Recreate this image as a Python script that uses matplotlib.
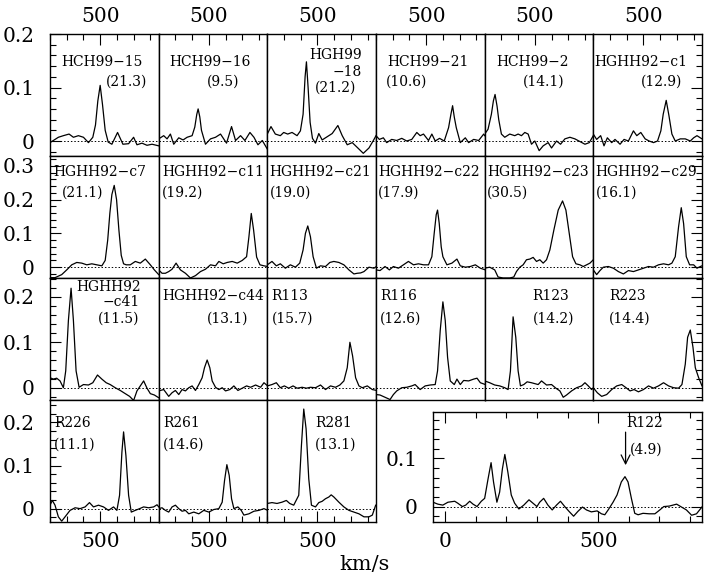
import matplotlib.pyplot as plt
from matplotlib.ticker import MultipleLocator, FixedLocator, FixedFormatter

plt.rcParams['font.family'] = 'DejaVu Serif'

# ---- spectra: velocity (km/s) and flux ----
v_hch99_15 = [200, 250, 280, 314, 340, 370, 400, 430, 456, 472, 486, 500, 514, 530, 548,
              570, 604, 636, 670, 700, 720, 750, 780, 810, 850]
f_hch99_15 = [-0.003, 0.007, 0.010, 0.013, 0.007, 0.010, 0.007, -0.003, 0.007, 0.030, 0.075,
              0.104, 0.068, 0.020, -0.002, -0.006, 0.016, -0.006, -0.005, 0.007, -0.007,
              -0.004, -0.008, -0.006, -0.009]

v_hch99_16 = [200, 230, 250, 270, 290, 320, 346, 370, 400, 416, 428, 436, 446, 456, 480,
              510, 540, 570, 606, 636, 660, 690, 716, 746, 770, 794, 820, 850]
f_hch99_16 = [0.004, 0.010, 0.004, 0.013, -0.006, 0.006, 0.002, 0.007, 0.010, 0.026, 0.050,
              0.060, 0.045, 0.020, -0.006, 0.004, 0.007, 0.013, -0.004, 0.027, 0.001, 0.010,
              0.001, 0.016, 0.007, -0.007, 0.001, -0.015]

v_hgh99_18 = [200, 222, 248, 278, 298, 322, 348, 378, 398, 414, 426, 434, 444, 456, 470,
              488, 508, 528, 558, 588, 622, 648, 678, 708, 738, 774, 808, 838, 850]
f_hgh99_18 = [0.013, 0.027, 0.013, 0.010, 0.016, 0.013, 0.016, 0.010, 0.019, 0.050, 0.120,
              0.148, 0.100, 0.035, 0.005, -0.004, 0.014, 0.002, 0.008, 0.014, 0.029, 0.010,
              -0.007, -0.003, -0.012, -0.023, -0.013, 0.003, 0.010]

v_hch99_21 = [200, 220, 244, 264, 294, 324, 354, 384, 414, 444, 464, 484, 514, 534, 554,
              580, 608, 634, 648, 658, 668, 680, 704, 734, 754, 784, 814, 844, 850]
f_hch99_21 = [0.010, 0.003, 0.006, -0.003, 0.003, 0.001, 0.005, 0.000, 0.003, 0.016, 0.010,
              0.013, 0.001, 0.013, 0.000, 0.005, 0.000, 0.025, 0.050, 0.066, 0.045, 0.025,
              -0.003, 0.006, -0.003, 0.003, 0.001, 0.013, 0.010]

v_hch99_2 = [200, 220, 240, 252, 262, 274, 284, 300, 320, 350, 380, 400, 420, 440, 460,
             480, 500, 526, 550, 580, 600, 630, 654, 680, 710, 740, 770, 800, 826, 850]
f_hch99_2 = [0.013, 0.022, 0.050, 0.075, 0.087, 0.065, 0.040, 0.013, 0.007, 0.013, 0.010,
             0.013, 0.010, 0.016, 0.013, -0.006, 0.000, -0.018, -0.009, -0.003, -0.013, 0.000,
             -0.006, 0.004, 0.007, 0.004, -0.001, -0.006, -0.003, 0.010]

v_c1 = [200, 220, 244, 264, 284, 310, 330, 360, 384, 410, 440, 460, 484, 510, 534, 560,
        584, 604, 618, 636, 652, 670, 690, 720, 750, 780, 800, 820, 850]
f_c1 = [0.013, 0.003, 0.010, -0.009, 0.006, -0.003, 0.003, -0.006, 0.003, 0.000, 0.019,
        0.010, 0.016, 0.004, 0.000, -0.003, 0.000, 0.019, 0.050, 0.076, 0.048, 0.013, 0.000,
        0.004, 0.004, 0.000, 0.006, 0.010, 0.004]

v_c7 = [200, 230, 270, 300, 330, 360, 390, 420, 450, 480, 510, 530, 545, 558, 570, 584,
        598, 612, 626, 640, 656, 680, 710, 740, 770, 800, 824, 850]
f_c7 = [-0.031, -0.031, -0.022, -0.008, 0.007, 0.014, 0.012, 0.007, 0.010, 0.007, 0.004,
        0.020, 0.080, 0.160, 0.215, 0.242, 0.200, 0.110, 0.035, 0.010, 0.007, 0.007, 0.017,
        0.012, 0.024, 0.007, -0.008, -0.022]

v_c11 = [200, 220, 240, 260, 280, 304, 330, 360, 390, 420, 450, 480, 510, 540, 560, 586,
         610, 640, 670, 700, 726, 740, 754, 768, 786, 806, 830, 852]
f_c11 = [-0.008, -0.018, -0.018, -0.013, -0.006, 0.012, -0.008, -0.018, -0.032, -0.025,
         -0.013, -0.006, 0.007, 0.004, 0.017, 0.010, 0.014, 0.017, 0.012, 0.020, 0.031,
         0.090, 0.159, 0.110, 0.030, 0.007, 0.004, 0.002]

v_c21 = [200, 228, 254, 278, 308, 338, 368, 394, 414, 428, 442, 458, 474, 494, 518, 548,
         574, 598, 628, 658, 688, 718, 738, 758, 778, 808, 838, 852]
f_c21 = [0.007, 0.017, 0.004, 0.010, -0.003, 0.007, 0.000, 0.012, 0.051, 0.100, 0.122,
         0.090, 0.031, -0.003, 0.004, 0.002, 0.014, 0.017, 0.014, 0.007, -0.008, -0.020,
         -0.018, -0.017, -0.013, 0.000, -0.003, 0.002]

v_c22 = [200, 224, 254, 280, 304, 334, 364, 394, 424, 454, 484, 514, 534, 548, 560, 568,
         578, 590, 600, 624, 654, 684, 704, 734, 764, 794, 824, 854]
f_c22 = [-0.008, -0.010, 0.002, -0.008, 0.002, -0.003, 0.007, 0.017, 0.007, 0.010, 0.007,
         0.007, 0.031, 0.100, 0.155, 0.169, 0.130, 0.060, 0.031, 0.007, 0.012, 0.024, 0.004,
         0.000, 0.002, 0.007, -0.003, -0.008]

v_c23 = [200, 230, 260, 280, 310, 350, 374, 390, 410, 430, 450, 470, 490, 510, 530, 550,
         570, 590, 614, 640, 666, 686, 706, 726, 746, 770, 790, 810, 830, 850]
f_c23 = [-0.003, 0.000, -0.008, -0.029, -0.032, -0.032, -0.029, -0.013, 0.000, 0.007, 0.022,
         0.024, 0.029, 0.017, 0.022, 0.012, 0.022, 0.051, 0.110, 0.169, 0.196, 0.169, 0.100,
         0.031, 0.010, 0.007, 0.002, 0.007, 0.012, 0.022]

v_c29 = [200, 220, 240, 260, 290, 320, 350, 380, 410, 440, 470, 500, 530, 560, 590, 620,
         650, 670, 690, 710, 726, 740, 756, 776, 800, 820, 840, 850]
f_c29 = [-0.008, -0.022, -0.010, 0.000, 0.002, -0.003, -0.013, -0.020, -0.010, -0.013,
         -0.008, -0.003, 0.002, 0.000, 0.007, 0.010, 0.007, 0.012, 0.031, 0.120, 0.176, 0.129,
         0.031, 0.007, 0.007, -0.003, 0.002, 0.004]

v_c41 = [200, 220, 240, 260, 280, 294, 310, 326, 340, 356, 374, 400, 430, 456, 484, 510,
         536, 560, 590, 620, 650, 676, 700, 720, 740, 760, 780, 800, 824, 850]
f_c41 = [0.022, 0.019, 0.021, 0.015, 0.000, 0.037, 0.148, 0.219, 0.148, 0.037, 0.001, 0.007,
         0.006, 0.011, 0.028, 0.019, 0.011, 0.007, 0.000, -0.006, -0.013, -0.019, -0.028,
         -0.007, 0.004, 0.015, -0.001, -0.013, -0.016, -0.022]

v_c44 = [200, 230, 260, 280, 300, 320, 340, 360, 380, 400, 420, 440, 460, 474, 490, 506,
         520, 540, 560, 580, 600, 626, 650, 674, 700, 726, 750, 780, 810, 830, 852]
f_c44 = [-0.007, -0.004, -0.019, -0.011, -0.006, -0.015, -0.004, -0.007, 0.000, 0.004,
         -0.006, 0.007, 0.022, 0.044, 0.061, 0.044, 0.015, 0.001, -0.004, 0.000, -0.007,
         -0.004, 0.004, -0.006, -0.001, 0.004, 0.001, 0.006, 0.001, 0.011, 0.004]

v_r113 = [200, 228, 254, 278, 302, 328, 354, 378, 408, 434, 458, 488, 518, 548, 578, 608,
          634, 658, 678, 694, 710, 728, 748, 768, 798, 828, 854]
f_r113 = [0.004, 0.007, 0.011, 0.000, 0.004, -0.001, 0.004, -0.001, 0.001, -0.001, 0.001,
          0.000, 0.006, -0.004, 0.004, 0.001, 0.006, 0.015, 0.044, 0.100, 0.070, 0.022, 0.004,
          0.000, 0.004, -0.004, -0.006]

v_r116 = [200, 224, 254, 284, 304, 324, 354, 384, 414, 434, 464, 494, 524, 554, 568, 584,
          600, 614, 628, 644, 668, 684, 704, 724, 754, 784, 804, 824, 854]
f_r116 = [-0.015, -0.016, -0.021, -0.026, -0.015, -0.007, 0.000, 0.001, 0.004, 0.007,
          -0.004, 0.004, 0.006, 0.007, 0.037, 0.126, 0.189, 0.148, 0.067, 0.015, 0.007, 0.019,
          0.007, 0.016, 0.015, 0.019, 0.021, 0.011, 0.007]

v_r123 = [200, 230, 260, 290, 320, 340, 354, 370, 386, 400, 414, 434, 454, 480, 500, 520,
          540, 570, 600, 626, 650, 670, 690, 720, 750, 780, 800, 820, 840, 850]
f_r123 = [0.015, 0.011, 0.006, 0.004, 0.000, -0.004, 0.037, 0.156, 0.111, 0.037, 0.004,
          0.007, 0.013, 0.011, 0.009, 0.007, 0.015, 0.006, 0.007, -0.001, -0.007, -0.021,
          -0.016, -0.007, 0.000, 0.004, 0.011, 0.004, -0.004, 0.000]

v_r223 = [200, 224, 250, 280, 310, 340, 370, 396, 420, 444, 470, 500, 530, 560, 590, 620,
          650, 680, 710, 730, 750, 764, 780, 796, 810, 830, 850]
f_r223 = [0.000, -0.011, -0.019, -0.015, -0.004, 0.004, 0.007, 0.000, -0.007, -0.004,
          -0.009, -0.004, 0.004, -0.001, 0.004, 0.011, 0.004, 0.000, -0.001, 0.007, 0.052,
          0.111, 0.127, 0.089, 0.044, 0.022, 0.004]

v_r226 = [200, 214, 230, 250, 270, 290, 320, 350, 380, 410, 436, 460, 490, 520, 550, 580,
          600, 616, 630, 640, 654, 670, 686, 710, 736, 760, 790, 820, 840, 850]
f_r226 = [0.008, 0.019, 0.008, -0.019, -0.029, -0.019, -0.004, 0.002, 0.000, 0.004, 0.014,
          0.004, 0.008, 0.004, -0.004, 0.004, -0.004, 0.031, 0.131, 0.178, 0.123, 0.031,
          -0.008, -0.004, 0.000, 0.004, 0.002, 0.004, 0.009, 0.004]

v_r261 = [200, 220, 240, 260, 280, 300, 320, 340, 360, 380, 410, 440, 470, 500, 530, 560,
          580, 594, 608, 622, 636, 650, 674, 694, 710, 740, 770, 800, 830, 852]
f_r261 = [0.000, 0.002, -0.004, -0.008, 0.004, 0.008, 0.000, -0.006, -0.004, -0.012,
          -0.008, -0.012, -0.004, -0.008, -0.002, 0.000, 0.015, 0.065, 0.102, 0.077, 0.023,
          0.000, 0.004, -0.004, -0.015, -0.012, -0.006, -0.004, 0.000, -0.004]

v_r281 = [200, 228, 258, 288, 314, 334, 358, 388, 404, 418, 432, 448, 464, 488, 508, 528,
          548, 568, 582, 598, 628, 658, 688, 718, 748, 778, 808, 828, 848]
f_r281 = [0.012, 0.014, 0.012, 0.015, 0.019, 0.012, 0.008, 0.031, 0.146, 0.231, 0.185,
          0.069, 0.008, 0.004, 0.014, 0.017, 0.023, 0.027, 0.032, 0.027, 0.015, 0.004, -0.004,
          -0.008, -0.012, -0.019, -0.019, -0.015, 0.008]

v_r122 = [-40, -24, -8, 9, 31, 41, 56, 67, 80, 91, 104, 118, 129, 140, 150, 158, 169, 178,
          187, 195, 205, 216, 227, 241, 257, 274, 287, 300, 309, 322, 336, 350, 364, 377,
          391, 405, 420, 434, 449, 462, 478, 497, 511, 522, 533, 549, 562, 576, 588, 598,
          609, 620, 631, 647, 667, 686, 702, 715, 733, 757, 773, 789, 806, 822, 841]
f_r122 = [0.009, 0.005, 0.003, 0.009, 0.011, 0.007, 0.000, 0.003, 0.011, 0.005,
          0.000, 0.011, 0.017, 0.057, 0.091, 0.051, 0.009, 0.030, 0.078, 0.108,
          0.071, 0.024, 0.007, -0.005, 0.003, 0.014, 0.007, 0.000, 0.009, 0.017,
          0.003, -0.007, 0.003, 0.011, 0.000, -0.010, -0.020, -0.010, -0.001, -0.007,
          -0.011, -0.009, -0.015, -0.017, -0.007, 0.009, 0.024, 0.051, 0.062, 0.051,
          0.017, -0.014, -0.017, -0.014, -0.015, -0.015, -0.007, 0.000, 0.001, 0.005,
          -0.001, -0.007, -0.018, -0.015, 0.000]

# labels: (text, x frac, y frac, ha)
panels = [
    (0, 0, v_hch99_15, f_hch99_15, [("HCH99\u221215", .10, .77, 'left'), ("(21.3)", .51, .61, 'left')]),
    (0, 1, v_hch99_16, f_hch99_16, [("HCH99\u221216", .10, .77, 'left'), ("(9.5)", .44, .61, 'left')]),
    (0, 2, v_hgh99_18, f_hgh99_18, [("HGH99", .39, .83, 'left'), ("\u221218", .87, .69, 'right'),
                                    ("(21.2)", .44, .56, 'left')]),
    (0, 3, v_hch99_21, f_hch99_21, [("HCH99\u221221", .10, .77, 'left'), ("(10.6)", .09, .61, 'left')]),
    (0, 4, v_hch99_2, f_hch99_2, [("HCH99\u22122", .11, .77, 'left'), ("(14.1)", .35, .61, 'left')]),
    (0, 5, v_c1, f_c1, [("HGHH92\u2212c1", .01, .77, 'left'), ("(12.9)", .44, .61, 'left')]),
    (1, 0, v_c7, f_c7, [("HGHH92\u2212c7", .03, .87, 'left'), ("(21.1)", .11, .70, 'left')]),
    (1, 1, v_c11, f_c11, [("HGHH92\u2212c11", .03, .87, 'left'), ("(19.2)", .03, .70, 'left')]),
    (1, 2, v_c21, f_c21, [("HGHH92\u2212c21", .02, .87, 'left'), ("(19.0)", .02, .70, 'left')]),
    (1, 3, v_c22, f_c22, [("HGHH92\u2212c22", .02, .87, 'left'), ("(17.9)", .02, .70, 'left')]),
    (1, 4, v_c23, f_c23, [("HGHH92\u2212c23", .02, .87, 'left'), ("(30.5)", .02, .70, 'left')]),
    (1, 5, v_c29, f_c29, [("HGHH92\u2212c29", .02, .87, 'left'), ("(16.1)", .02, .70, 'left')]),
    (2, 0, v_c41, f_c41, [("HGHH92", .245, .93, 'left'), ("\u2212c41", .83, .80, 'right'),
                          ("(11.5)", .44, .67, 'left')]),
    (2, 1, v_c44, f_c44, [("HGHH92\u2212c44", .03, .85, 'left'), ("(13.1)", .44, .67, 'left')]),
    (2, 2, v_r113, f_r113, [("R113", .04, .85, 'left'), ("(15.7)", .04, .67, 'left')]),
    (2, 3, v_r116, f_r116, [("R116", .04, .85, 'left'), ("(12.6)", .04, .67, 'left')]),
    (2, 4, v_r123, f_r123, [("R123", .44, .85, 'left'), ("(14.2)", .44, .67, 'left')]),
    (2, 5, v_r223, f_r223, [("R223", .145, .85, 'left'), ("(14.4)", .145, .67, 'left')]),
    (3, 0, v_r226, f_r226, [("R226", .04, .81, 'left'), ("(11.1)", .04, .63, 'left')]),
    (3, 1, v_r261, f_r261, [("R261", .04, .81, 'left'), ("(14.6)", .04, .63, 'left')]),
    (3, 2, v_r281, f_r281, [("R281", .44, .81, 'left'), ("(13.1)", .44, .63, 'left')]),
]

W, H = 705.0, 578.0
col_x = [50, 158.7, 267.3, 376, 484.7, 593.3, 702]
row_y = [34, 156, 278, 400, 522]
row_lim = [(-0.028, 0.2), (-0.032, 0.329), (-0.027, 0.2415), (-0.031, 0.252)]
row_ticks = [[0, 0.1, 0.2], [0, 0.1, 0.2, 0.3], [0, 0.1, 0.2], [0, 0.1, 0.2]]
TICKSIZE = 14.5


def rect(x0, y0, x1, y1):
    return [x0 / W, 1 - y1 / H, (x1 - x0) / W, (y1 - y0) / H]


def style(ax):
    for s in ax.spines.values():
        s.set_linewidth(1.0)
    ax.tick_params(which='both', direction='in', width=0.8, labelsize=TICKSIZE,
                   top=False, bottom=False, left=False, right=False,
                   labeltop=False, labelbottom=False, labelleft=False, labelright=False)
    ax.tick_params(which='major', length=8)
    ax.tick_params(which='minor', length=4)


def ylabels(vals):
    return ['0' if t == 0 else ('%.1f' % t) for t in vals]


fig = plt.figure(figsize=(7.05, 5.78), dpi=100)

for row, col, v, f, labels in panels:
    ax = fig.add_axes(rect(col_x[col], row_y[row], col_x[col + 1], row_y[row + 1]))
    style(ax)
    ax.plot(v, f, color='k', lw=0.9)
    ax.axhline(0, color='k', ls=(0, (1.5, 2)), lw=0.7)
    ax.set_xlim(200, 850)
    ax.set_ylim(*row_lim[row])
    ax.xaxis.set_major_locator(FixedLocator([500]))
    ax.xaxis.set_major_formatter(FixedFormatter(['500']))
    ax.xaxis.set_minor_locator(MultipleLocator(100))
    ax.yaxis.set_major_locator(FixedLocator(row_ticks[row]))
    ax.yaxis.set_major_formatter(FixedFormatter(ylabels(row_ticks[row])))
    ax.yaxis.set_minor_locator(MultipleLocator(0.02))
    if row == 0:
        ax.tick_params(which='both', top=True)
        ax.tick_params(labeltop=True, pad=6)
    if row == 3:
        ax.tick_params(which='both', bottom=True)
        ax.tick_params(labelbottom=True, pad=7)
    if col == 0:
        ax.tick_params(which='both', left=True)
        ax.tick_params(axis='y', labelleft=True, pad=11)
    if col == 5:
        ax.tick_params(which='both', right=True)
    for text, fx, fy, ha in labels:
        ax.text(fx, fy, text, transform=ax.transAxes, ha=ha, va='center', fontsize=10)

# wide R122 panel
ax = fig.add_axes(rect(433, 412, 702, 522))
style(ax)
ax.plot(v_r122, f_r122, color='k', lw=0.9)
ax.axhline(0, color='k', ls=(0, (1.5, 2)), lw=0.7)
ax.set_xlim(-40, 840)
ax.set_ylim(-0.032, 0.196)
ax.xaxis.set_major_locator(FixedLocator([0, 500]))
ax.xaxis.set_major_formatter(FixedFormatter(['0', '500']))
ax.xaxis.set_minor_locator(MultipleLocator(100))
ax.yaxis.set_major_locator(FixedLocator([0, 0.1]))
ax.yaxis.set_major_formatter(FixedFormatter(['0', '0.1']))
ax.yaxis.set_minor_locator(MultipleLocator(0.02))
ax.tick_params(which='both', top=True, bottom=True, left=True, right=True)
ax.tick_params(labelbottom=True, labelleft=True)
ax.tick_params(axis='x', pad=7)
ax.tick_params(axis='y', pad=11)
ax.annotate('', xy=(590, 0.080), xytext=(590, 0.160),
            arrowprops=dict(arrowstyle='->', color='k', lw=0.9, mutation_scale=16))
ax.text(593, 0.174, 'R122', ha='left', va='center', fontsize=10)
ax.text(604, 0.118, '(4.9)', ha='left', va='center', fontsize=10)

fig.text(365 / W, 1 - 565 / H, 'km/s', ha='center', va='center', fontsize=15)

fig.savefig('out.png', dpi=100)
